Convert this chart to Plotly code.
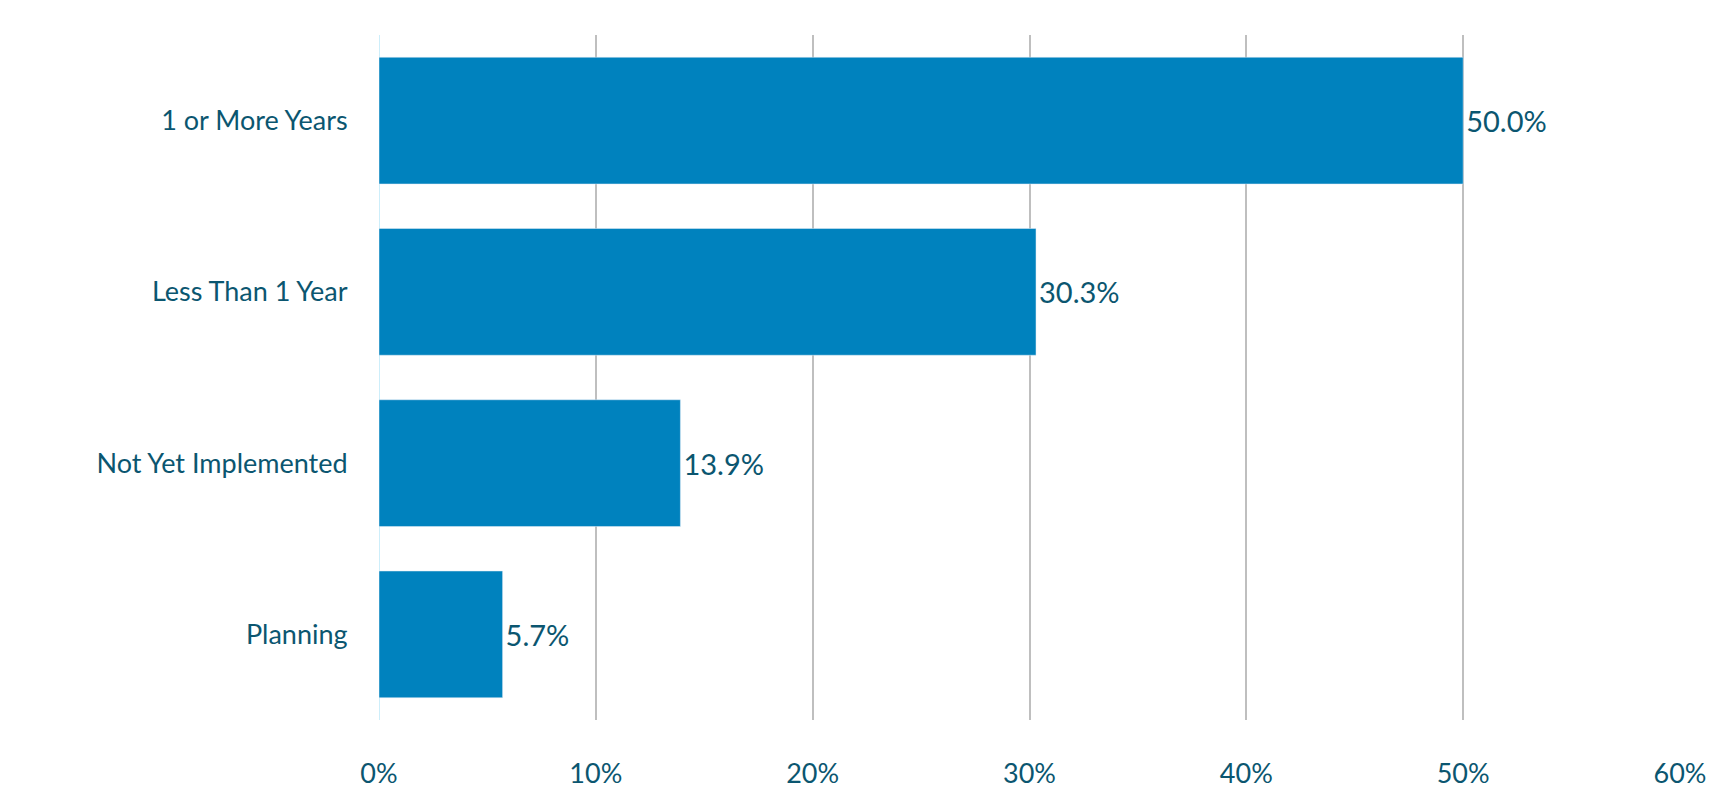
import plotly.graph_objects as go

categories = ["1 or More Years", "Less Than 1 Year", "Not Yet Implemented", "Planning"]
values = [50.0, 30.3, 13.9, 5.7]
tick_vals = [0, 10, 20, 30, 40, 50, 60]
tick_text = ["0%", "10%", "20%", "30%", "40%", "50%", "60%"]

txt = "#0b5670"
fig = go.Figure(go.Bar(
    y=categories, x=values, orientation="h",
    marker_color="#0082BE",
    text=[f"{v:.1f}%" for v in values], textposition="outside",
    textfont=dict(size=29, color=txt, family="Lato"),
    cliponaxis=False,
))
fig.update_layout(
    width=1715, height=793, plot_bgcolor="white", paper_bgcolor="white",
    margin=dict(l=371, r=43, t=27, b=75),
    bargap=0.26, showlegend=False,
    font=dict(family="Lato", color=txt),
)
fig.update_xaxes(range=[0, 60], tickvals=tick_vals, ticktext=tick_text,
                 showgrid=True, gridcolor="#bfbfbf", gridwidth=1.5,
                 zeroline=True, zerolinecolor="#cdeefa", zerolinewidth=1,
                 ticks="outside", ticklen=30, tickcolor="rgba(0,0,0,0)",
                 tickfont=dict(size=27, color=txt, family="Lato"))
fig.update_yaxes(autorange="reversed", ticks="outside", ticklen=25,
                 tickcolor="rgba(0,0,0,0)",
                 tickfont=dict(size=27, color=txt, family="Lato"))
fig.write_html("out.html")
